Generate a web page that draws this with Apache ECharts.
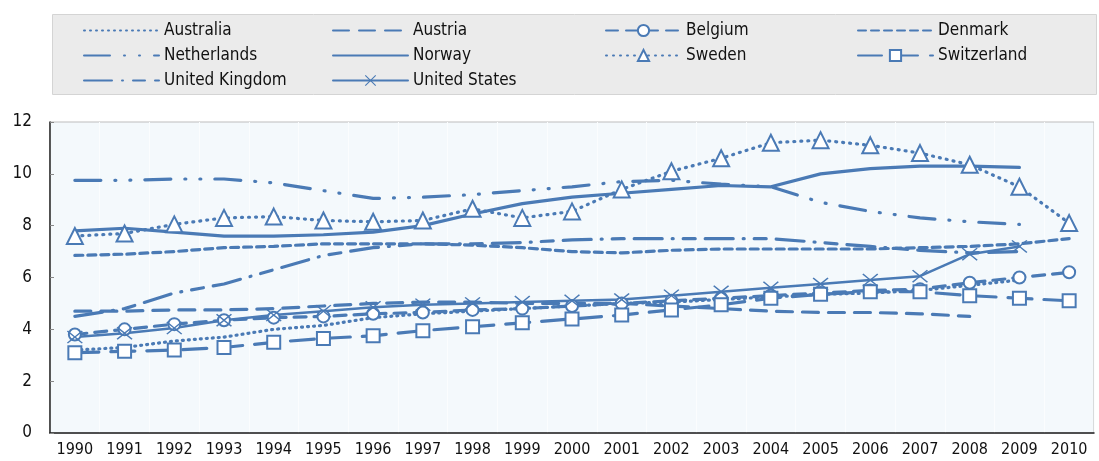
<!DOCTYPE html>
<html>
<head>
<meta charset="utf-8">
<script src="https://cdn.jsdelivr.net/npm/echarts@6/dist/echarts.min.js"></script>
<style>
  html, body { margin: 0; padding: 0; background: #fff; }
  #main { width: 1099px; height: 461px; }
</style>
</head>
<body>
<div id="main"></div>
<script>
var years = ["1990", "1991", "1992", "1993", "1994", "1995", "1996", "1997", "1998", "1999", "2000",
    "2001", "2002", "2003", "2004", "2005", "2006", "2007", "2008", "2009", "2010"]

var australia = [3.2, 3.3, 3.55, 3.7, 4.0, 4.15, 4.45, 4.6, 4.7, 4.8, 4.9, 5.0, 5.05, 5.15, 5.25, 5.35, 5.4, 5.5, 5.7, 5.9, null]
var austria = [4.7, 4.7, 4.75, 4.75, 4.8, 4.9, 5.0, 5.05, 5.05, 5.0, 5.0, 5.0, 4.9, 4.8, 4.7, 4.65, 4.65, 4.6, 4.5, null, null]
var belgium = [3.8, 4.0, 4.2, 4.35, 4.45, 4.5, 4.6, 4.65, 4.75, 4.8, 4.9, 5.0, 5.1, 5.2, 5.3, 5.4, 5.5, 5.55, 5.8, 6.0, 6.2]
var denmark = [6.85, 6.9, 7.0, 7.15, 7.2, 7.3, 7.3, 7.3, 7.25, 7.15, 7.0, 6.95, 7.05, 7.1, 7.1, 7.1, 7.1, 7.15, 7.2, 7.3, 7.5]
var netherlands = [9.75, 9.75, 9.8, 9.8, 9.65, 9.35, 9.05, 9.1, 9.2, 9.35, 9.5, 9.7, 9.75, 9.6, 9.5, 8.9, 8.55, 8.3, 8.15, 8.05, null]
var norway = [7.8, 7.9, 7.75, 7.6, 7.6, 7.65, 7.75, 8.0, 8.45, 8.85, 9.1, 9.25, 9.4, 9.55, 9.5, 10.0, 10.2, 10.3, 10.3, 10.25, null]
var sweden = [7.6, 7.7, 8.05, 8.3, 8.35, 8.2, 8.15, 8.2, 8.65, 8.3, 8.55, 9.4, 10.1, 10.6, 11.2, 11.3, 11.1, 10.8, 10.35, 9.5, 8.1]
var switzerland = [3.1, 3.15, 3.2, 3.3, 3.5, 3.65, 3.75, 3.95, 4.1, 4.25, 4.4, 4.55, 4.75, 4.95, 5.2, 5.35, 5.45, 5.45, 5.3, 5.2, 5.1]
var unitedKingdom = [4.5, 4.8, 5.4, 5.75, 6.3, 6.85, 7.15, 7.3, 7.3, 7.35, 7.45, 7.5, 7.5, 7.5, 7.5, 7.35, 7.2, 7.05, 6.95, 7.0, null]
var unitedStates = [3.7, 3.85, 4.05, 4.35, 4.55, 4.7, 4.85, 4.95, 5.0, 5.05, 5.1, 5.15, 5.3, 5.45, 5.6, 5.75, 5.9, 6.05, 6.9, 7.2, null]

var yTicks = [0, 2, 4, 6, 8, 10, 12]

var blue = '#4a7ab5'
var font = '"DejaVu Sans Condensed", "Liberation Sans", sans-serif'
// X marker for United States (path symbols get filled, so draw it as a thin polygon)
var crossPath = 'path://M0,0.7L0.7,0L5,4.3L9.3,0L10,0.7L5.7,5L10,9.3L9.3,10L5,5.7L0.7,10L0,9.3L4.3,5Z'

function makeLine(name, data, dash, width, symbol, size) {
    var s = {
        name: name,
        type: 'line',
        data: data,
        symbol: symbol || 'none',
        symbolSize: size || 10,
        showSymbol: !!symbol,
        itemStyle: { color: blue, borderWidth: 2.5 },
        lineStyle: { color: blue, width: width, type: dash, cap: 'round' },
        z: 3
    }
    // no marker -> keep the legend from drawing its default circle
    if (!symbol) s.itemStyle.opacity = 0
    return s
}

function legendCol(left, names) {
    return {
        orient: 'vertical',
        left: left,
        top: 17,
        itemWidth: 75,
        itemHeight: 14,
        itemGap: 8,
        data: names.map(function (n) {
            var hasMark = ['Belgium', 'Sweden', 'Switzerland', 'United States'].indexOf(n) > -1
            return hasMark ? { name: n } : { name: n, itemStyle: { opacity: 0 } }
        }),
        selectedMode: false,
        textStyle: { fontFamily: font, fontSize: 17, color: '#111' }
    }
}

var myChart = echarts.init(document.getElementById('main'))
var option = {
    animation: false,
    graphic: [{
        type: 'rect',
        left: 52, top: 14,
        shape: { width: 1044, height: 80 },
        style: { fill: '#ebebeb', stroke: '#d4d4d4', lineWidth: 1 },
        z: -10
    }],
    legend: [
        legendCol(78, ['Australia', 'Netherlands', 'United Kingdom']),
        legendCol(327, ['Austria', 'Norway', 'United States']),
        legendCol(600, ['Belgium', 'Sweden']),
        legendCol(852, ['Denmark', 'Switzerland'])
    ],
    grid: {
        left: 50, right: 5, top: 122, bottom: 28,
        show: true,
        backgroundColor: '#f4f9fc',
        borderColor: '#bdbdbd',
        borderWidth: 1
    },
    xAxis: {
        type: 'category',
        data: years,
        boundaryGap: true,
        axisLine: { lineStyle: { color: '#222', width: 1.5 } },
        axisTick: { show: false },
        axisLabel: { interval: 0, fontFamily: font, fontSize: 16, color: '#111', margin: 9 },
        splitLine: { show: true, interval: 0, lineStyle: { color: '#fbfdfe', width: 1 } }
    },
    yAxis: {
        type: 'value',
        min: yTicks[0],
        max: yTicks[yTicks.length - 1],
        interval: 2,
        axisLine: { show: true, lineStyle: { color: '#222', width: 1.5 } },
        axisTick: { show: true, inside: true, length: 4, lineStyle: { color: '#888' } },
        axisLabel: { fontFamily: font, fontSize: 17, color: '#111', margin: 18 },
        splitLine: { show: false }
    },
    series: [
        makeLine('Australia', australia, [1, 5], 3.2),
        makeLine('Austria', austria, [16, 10], 3.2),
        makeLine('Belgium', belgium, [12, 8], 3.2, 'emptyCircle', 12),
        makeLine('Denmark', denmark, [8, 5], 3.2),
        makeLine('Netherlands', netherlands, [26, 14, 1, 14, 1, 14], 3.2),
        makeLine('Norway', norway, 'solid', 3.2),
        makeLine('Sweden', sweden, [1, 6], 3.2, 'emptyTriangle', 16),
        makeLine('Switzerland', switzerland, [24, 12], 3.2, 'emptyRect', 13),
        makeLine('United Kingdom', unitedKingdom, [28, 10, 1, 10, 12, 10], 3.2),
        makeLine('United States', unitedStates, 'solid', 2.5, crossPath, [16, 13])
    ]
}

option && myChart.setOption(option)
window.addEventListener('resize', myChart.resize)
</script>
</body>
</html>
